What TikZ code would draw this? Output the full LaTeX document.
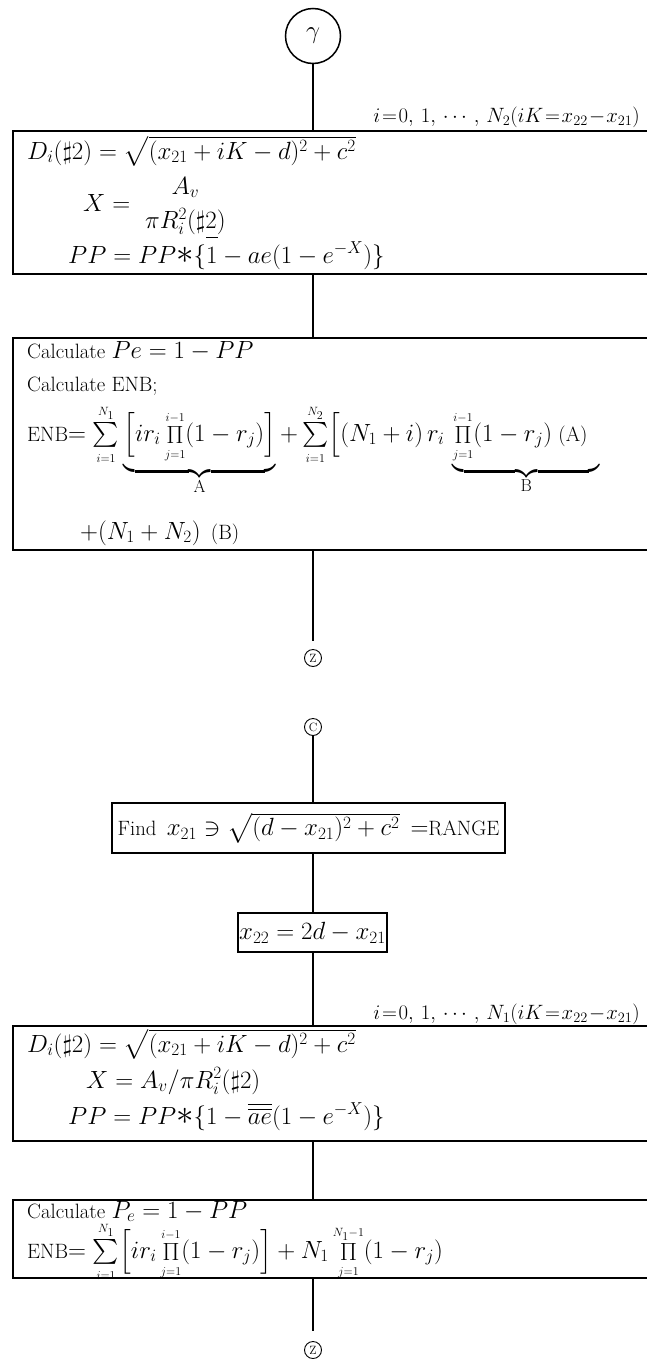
\documentclass[tikz,border=0pt]{standalone}
\usepackage{amsmath,amssymb}
\usetikzlibrary{positioning,calc}

\DeclareMathSizes{20.74}{24.88}{17.28}{12}
\DeclareMathSizes{17.28}{20.74}{14.4}{10}
\newcommand{\chartfont}{\fontsize{20.74}{25}\selectfont}
\newcommand{\notefont}{\fontsize{17.28}{21}\selectfont}
\newcommand{\pip}{\mathop{{\Pi}}\limits}
\newcommand{\mulstar}{{\scalebox{1.4}{$\ast$}}}
\newcommand{\tightmath}{\thickmuskip=1.5mu\relax\medmuskip=1mu\relax}

\begin{document}
\begin{tikzpicture}[x=1pt, y=-1pt,
  flow/.style={line width=1.5pt},
  procbox/.style={draw, line width=1.5pt, inner sep=0pt, anchor=north west},
  boxline/.style={anchor=base west, inner sep=0pt, font=\chartfont},
  rangenote/.style={anchor=base east, inner sep=0pt, font=\notefont},
  offpage/.style={draw, circle, line width=0.9pt, inner sep=0pt, minimum size=17pt, font=\fontsize{12}{12}\selectfont}]
  \useasboundingbox (0,0) rectangle (646,1365);

  % Entry point
  \node[draw, circle, line width=1.5pt, minimum size=55pt, inner sep=0pt, font=\fontsize{24.88}{28}\selectfont] (gamma) at (313,36) {$\gamma$};

  % Loop over N2 targets
  \node[rangenote] (rangeN2) at (640,122) {$\tightmath i=0,\,1,\,\cdots,\,N_2(iK=x_{22}-x_{21})$};
  \node[procbox, minimum width=650pt, minimum height=143pt] (loopN2) at (12,130) {};
  \node[boxline] (distN2) at (27,159) {$D_i(\sharp2)=\sqrt{(x_{21}+iK-d)^2+c^2}$};
  \node[boxline] (ratioN2) at (83,211) {$X=\;\genfrac{}{}{0pt}{0}{A_v}{\pi R_i^2(\sharp2)}$};
  \node[boxline] (probN2) at (68,263) {$PP=PP\mulstar\{\overline{\rule{0pt}{1.05em}1}-ae(1-e^{-X})\}$};

  % Expected number, first case
  \node[procbox, minimum width=650pt, minimum height=212pt] (calcN2) at (12,337) {};
  \node[boxline] (peN2) at (27,358) {Calculate $Pe=1-PP$};
  \node[boxline] (enbN2) at (27,391) {Calculate ENB;};
  \node[boxline] (formN2) at (27,441) {ENB$=\sum\limits_{\scriptscriptstyle i=1}^{\scriptscriptstyle N_1}\underbrace{\textstyle\Bigl[ir_i\pip_{\scriptscriptstyle j=1}^{\scriptscriptstyle i-1}(1-r_j)\Bigr]\rule[-26pt]{0pt}{0pt}}_{\text{A}}+\sum\limits_{\scriptscriptstyle i=1}^{\scriptscriptstyle N_2}\Bigl[(N_1+i)\,r_i\,\underbrace{\textstyle\pip_{\scriptscriptstyle j=1}^{\scriptscriptstyle i-1}(1-r_j)\ \text{(A)}\rule[-26pt]{0pt}{0pt}\hspace{0.6em}}_{\text{B}}$};
  \node[boxline] (tailN2) at (80,539) {$+(N_1+N_2)$\enspace(B)};

  % Off-page connectors
  \node[offpage] (zOut1) at (313,658) {Z};
  \node[offpage] (cIn) at (313,727) {C};

  % Second case
  \node[procbox, anchor=center, minimum width=393pt, minimum height=50pt, font=\chartfont] (findX) at (308.5,828) {Find\enspace$x_{21}\ni\sqrt{(d-x_{21})^2+c^2}\,=$RANGE};
  \node[procbox, anchor=center, minimum width=149pt, minimum height=39pt, font=\chartfont] (shiftX) at (312.5,932.5) {$x_{22}=2d-x_{21}$};

  % Loop over N1 targets
  \node[rangenote] (rangeN1) at (640,1019) {$\tightmath i=0,\,1,\,\cdots,\,N_1(iK=x_{22}-x_{21})$};
  \node[procbox, minimum width=650pt, minimum height=115pt] (loopN1) at (12,1025) {};
  \node[boxline] (distN1) at (27,1052) {$D_i(\sharp2)=\sqrt{(x_{21}+iK-d)^2+c^2}$};
  \node[boxline] (ratioN1) at (86,1088) {$X=A_v/\pi R_i^2(\sharp2)$};
  \node[boxline] (probN1) at (68,1124) {$PP=PP\mulstar\{1-\overline{\overline{ae}}(1-e^{-X})\}$};

  % Expected number, second case
  \node[procbox, minimum width=650pt, minimum height=78pt] (calcN1) at (12,1199) {};
  \node[boxline] (peN1) at (27,1218) {Calculate $P_e=1-PP$};
  \node[boxline] (formN1) at (27,1258) {ENB$=\sum\limits_{\scriptscriptstyle i=1}^{\scriptscriptstyle N_1}\Bigl[ir_i\pip_{\scriptscriptstyle j=1}^{\scriptscriptstyle i-1}(1-r_j)\Bigr]+N_1\pip_{\scriptscriptstyle j=1}^{\scriptscriptstyle N_1-1}(1-r_j)$};
  \node[offpage] (zOut2) at (313,1350) {Z};

  % Flow lines
  \draw[flow] (gamma.south) -- (gamma.south |- loopN2.north);
  \draw[flow] (gamma |- loopN2.south) -- (gamma |- calcN2.north);
  \draw[flow, shorten >=8pt] (gamma |- calcN2.south) -- (zOut1);
  \draw[flow] (cIn) -- (cIn |- findX.north);
  \draw[flow] (cIn |- findX.south) -- (cIn |- shiftX.north);
  \draw[flow] (cIn |- shiftX.south) -- (cIn |- loopN1.north);
  \draw[flow] (cIn |- loopN1.south) -- (cIn |- calcN1.north);
  \draw[flow, shorten >=10pt] (cIn |- calcN1.south) -- (zOut2);
\end{tikzpicture}
\end{document}
